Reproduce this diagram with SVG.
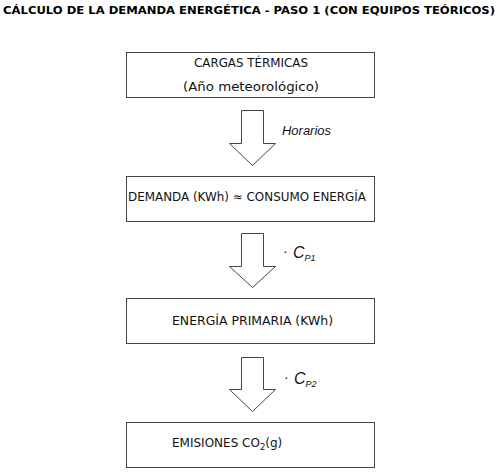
<svg xmlns="http://www.w3.org/2000/svg" width="500" height="474" viewBox="0 0 500 474">
<style>
.box{fill:#fff;stroke:#444;stroke-width:1}
.arr{fill:#fff;stroke:#444;stroke-width:1}
.t{font-family:"DejaVu Sans",Verdana,sans-serif;font-size:12px;fill:#111}
.title{font-family:"DejaVu Sans",Verdana,sans-serif;font-size:11px;font-weight:bold;fill:#000}
.lab{font-family:"Liberation Sans",Arial,sans-serif;font-style:italic;fill:#111}
</style>
<rect width="500" height="474" fill="#fff"/>
<text class="title" x="3" y="14" textLength="492" lengthAdjust="spacingAndGlyphs">CÁLCULO DE LA DEMANDA ENERGÉTICA - PASO 1 (CON EQUIPOS TEÓRICOS)</text>
<g id="connectors">
<polygon class="arr" points="241.5,110.5 263.5,110.5 263.5,143.5 275.5,143.5 252.5,165.5 229.5,143.5 241.5,143.5"/>
<polygon class="arr" points="241.5,233.5 263.5,233.5 263.5,266.5 275.5,266.5 252.5,287.5 229.5,266.5 241.5,266.5"/>
<polygon class="arr" points="241.5,357.5 263.5,357.5 263.5,389.5 275.5,389.5 252.5,411.5 229.5,389.5 241.5,389.5"/>
<text class="lab" x="282" y="135" font-size="12" textLength="49" lengthAdjust="spacingAndGlyphs">Horarios</text>
<text class="lab" x="283" y="256" font-size="14">·</text>
<text class="lab" x="293" y="258" font-size="16">C<tspan font-size="9" dy="3">P1</tspan></text>
<text class="lab" x="284" y="382" font-size="14">·</text>
<text class="lab" x="294" y="384" font-size="16">C<tspan font-size="9" dy="3">P2</tspan></text>
</g>
<g id="n1">
<rect class="box" x="126.5" y="52.5" width="248" height="45"/>
<text class="t" x="251" y="67" text-anchor="middle" textLength="114" lengthAdjust="spacingAndGlyphs">CARGAS TÉRMICAS</text>
<text class="t" x="251" y="91" text-anchor="middle" textLength="136" lengthAdjust="spacingAndGlyphs">(Año meteorológico)</text>
</g>
<g id="n2">
<rect class="box" x="126.5" y="176.5" width="248" height="45"/>
<text class="t" x="128" y="201" textLength="238" lengthAdjust="spacingAndGlyphs">DEMANDA (KWh) ≈ CONSUMO ENERGÍA</text>
</g>
<g id="n3">
<rect class="box" x="126.5" y="298.5" width="248" height="45"/>
<text class="t" x="172" y="325" textLength="161" lengthAdjust="spacingAndGlyphs">ENERGÍA PRIMARIA (KWh)</text>
</g>
<g id="n4">
<rect class="box" x="126.5" y="422.5" width="248" height="45"/>
<text class="t" x="172" y="447" font-size="12.5">EMISIONES CO<tspan font-size="8.5" dy="3">2</tspan><tspan dy="-3">(g)</tspan></text>
</g>
</svg>
